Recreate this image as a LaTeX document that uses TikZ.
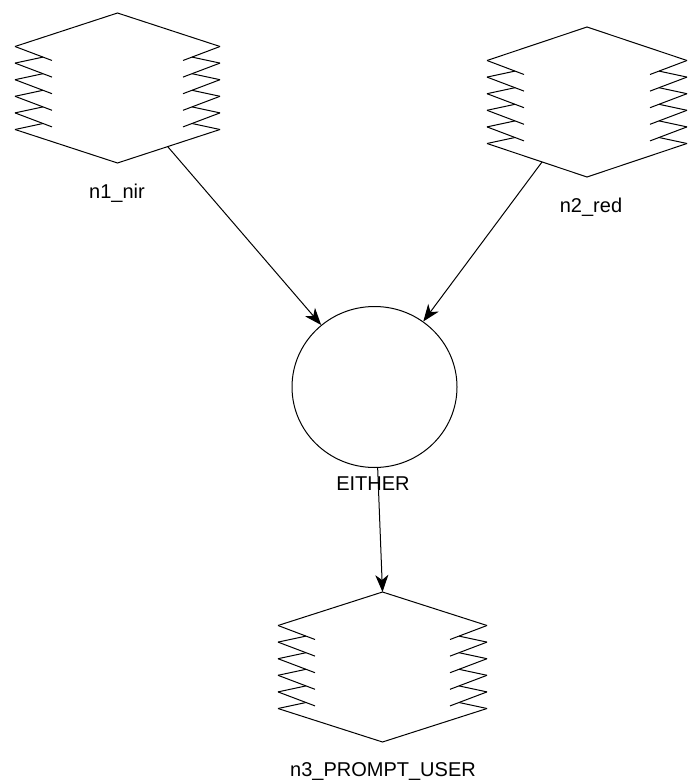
\documentclass[tikz,border=0pt]{standalone}
\usepackage{fontspec}
\setmainfont{Liberation Sans}
\usetikzlibrary{arrows.meta,shapes.geometric}
\newcommand\zighex[3]{%
  \draw[shapeline] ({#1-#3},{#2-41.5}) -- ({#1},{#2-75}) -- ({#1+#3},{#2-41.5});
  \draw[shapeline] ({#1-#3},{#2+41.5}) -- ({#1},{#2+75}) -- ({#1+#3},{#2+41.5});
  \foreach \i in {0,...,4}{
    \draw[shapeline] ({#1-#3},{#2-41.5+\i*16.6}) -- ({#1-#3+37},{#2-41.5+\i*16.6+14});
    \draw[shapeline] ({#1-#3},{#2-41.5+(\i+1)*16.6}) -- ({#1-#3+28},{#2-41.5+\i*16.6+10.6});
    \draw[shapeline] ({#1+#3},{#2-41.5+\i*16.6}) -- ({#1+#3-37},{#2-41.5+\i*16.6+14});
    \draw[shapeline] ({#1+#3},{#2-41.5+(\i+1)*16.6}) -- ({#1+#3-28},{#2-41.5+\i*16.6+10.6});
  }
}
\begin{document}
\begin{tikzpicture}[x=1pt,y=-1pt,
  shapeline/.style={line width=1pt,black},
  conn/.style={line width=1pt,-{Stealth[length=17pt,width=13pt,inset=5pt]}},
  lbl/.style={font=\fontsize{20}{23}\selectfont,inner sep=0pt},
  circ/.style={ellipse,draw,line width=1pt,minimum width=165pt,minimum height=161pt,inner sep=0pt}]
\useasboundingbox (0,0) rectangle (688,783);
\fill[white] (0,0) rectangle (688,783);
% shapes
\zighex{117.5}{88}{102.5}
\zighex{587}{102}{100}
\zighex{382.5}{667}{104.5}
\node[circ] (c) at (374.5,387) {};
% border points
\coordinate (n1o) at (167.6,146.5);
\coordinate (n2o) at (542,162);
\coordinate (n3t) at (382.5,592);
% labels
\node[lbl] (l1) at (117,193) {n1\_nir};
\node[lbl] (l2) at (591,207) {n2\_red};
\node[lbl] (lc) at (373,484) {EITHER};
\node[lbl] (l3) at (383,771) {n3\_PROMPT\_USER};
% connectors
\draw[conn] (n1o) -- (c);
\draw[conn] (n2o) -- (c);
\draw[conn] (c) -- (n3t);
\end{tikzpicture}
\end{document}
